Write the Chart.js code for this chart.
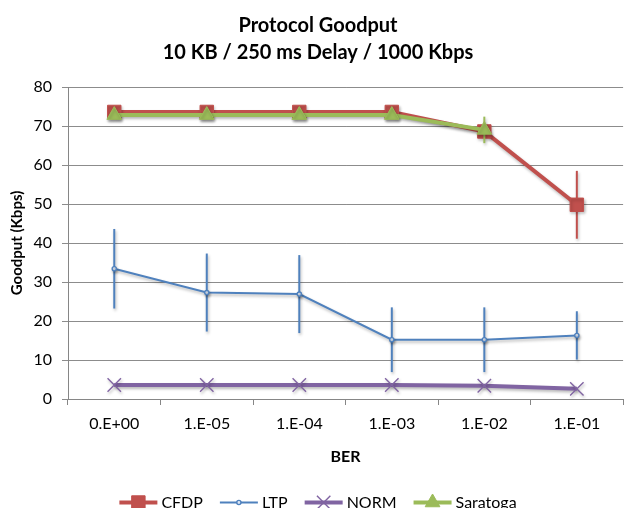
<!DOCTYPE html>
<html><head><meta charset="utf-8">
<script src="https://cdn.jsdelivr.net/npm/chart.js@4.4.0/dist/chart.umd.min.js"></script>
<style>html,body{margin:0;padding:0;background:#fff;overflow:hidden}#wrap{width:624px;height:508px;overflow:hidden;position:relative}canvas{display:block}</style>
</head><body><div id="wrap"><canvas id="c" width="634" height="530"></canvas></div>
<script>
const titleLines = ['Protocol Goodput', '10 KB / 250 ms Delay / 1000 Kbps'];
const categories = ['0.E+00', '1.E-05', '1.E-04', '1.E-03', '1.E-02', '1.E-01'];
const cfdp = [73.6, 73.6, 73.6, 73.6, 68.6, 49.8];
const cfdpErr = [0, 0, 0, 0, 0, 8.7];
const ltp = [33.4, 27.3, 26.9, 15.2, 15.2, 16.3];
const ltpErr = [10.2, 10.0, 10.0, 8.3, 8.3, 6.2];
const norm = [3.6, 3.6, 3.6, 3.6, 3.4, 2.6];
const normErr = [0, 0, 0, 0, 0, 0];
const saratoga = [72.8, 72.8, 72.8, 72.8, 69.0, null];
const saratogaErr = [0, 0, 0, 0, 3.4, 0];

const FONT = 'Lato, "Open Sans", sans-serif';
Chart.defaults.font.family = FONT;
Chart.defaults.color = '#000';

function setShadow(ctx) {
  ctx.shadowColor = 'rgba(0,0,0,0.28)';
  ctx.shadowBlur = 3;
  ctx.shadowOffsetX = 1;
  ctx.shadowOffsetY = 2;
}

const errorBars = {
  id: 'errorBars',
  beforeDatasetDraw(chart, args) {
    const ctx = chart.ctx;
    ctx.save();
    setShadow(ctx);
    const ds = chart.data.datasets[args.index];
    const xs = chart.scales.x, ys = chart.scales.y;
    const a = chart.chartArea;
    ctx.beginPath(); ctx.rect(a.left, a.top, a.right - a.left, a.bottom - a.top); ctx.clip();
    ctx.strokeStyle = ds.borderColor;
    ctx.lineWidth = ds.errWidth || 2;
    (ds.errors || []).forEach((e, i) => {
      const v = ds.data[i];
      if (v == null || !e) return;
      const x = xs.getPixelForValue(i);
      ctx.beginPath();
      ctx.moveTo(x, ys.getPixelForValue(v + e));
      ctx.lineTo(x, ys.getPixelForValue(v - e));
      ctx.stroke();
    });
    ctx.restore();
    ctx.save();
    setShadow(ctx);
  },
  afterDatasetDraw(chart) {
    chart.ctx.restore();
  }
};

function drawMarker(ctx, ds, x, y) {
  ctx.save();
  ctx.fillStyle = ds.pointBackgroundColor || ds.backgroundColor;
  ctx.strokeStyle = ds.pointBorderColor || ds.borderColor;
  ctx.lineWidth = ds.pointBorderWidth || 1;
  const r = ds.pointRadius;
  ctx.beginPath();
  if (ds.pointStyle === 'rect') {
    const s = Math.SQRT1_2 * r;
    ctx.rect(x - s, y - s, 2 * s, 2 * s); ctx.fill(); ctx.stroke();
  } else if (ds.pointStyle === 'circle') {
    ctx.arc(x, y, r, 0, Math.PI * 2); ctx.fill(); ctx.stroke();
  } else if (ds.pointStyle === 'crossRot') {
    const s = Math.SQRT1_2 * r;
    ctx.moveTo(x - s, y - s); ctx.lineTo(x + s, y + s);
    ctx.moveTo(x + s, y - s); ctx.lineTo(x - s, y + s); ctx.stroke();
  } else if (ds.pointStyle === 'triangle') {
    const a = 2 * Math.PI / 3;
    ctx.moveTo(x, y - r);
    ctx.lineTo(x + Math.sin(a) * r, y - Math.cos(a) * r);
    ctx.lineTo(x + Math.sin(2 * a) * r, y - Math.cos(2 * a) * r);
    ctx.closePath(); ctx.fill(); ctx.stroke();
  }
  ctx.restore();
}

const legendPlugin = {
  id: 'xlLegend',
  afterDraw(chart) {
    const ctx = chart.ctx;
    ctx.save();
    ctx.font = '16px ' + FONT;
    ctx.textBaseline = 'middle';
    ctx.fillStyle = '#000';
    const lineLen = 38, gapT = 4, gapI = 17, cy = 502.5;
    const dss = chart.data.datasets;
    let total = 0;
    dss.forEach((d, i) => { total += lineLen + gapT + ctx.measureText(d.label).width + (i < dss.length - 1 ? gapI : 0); });
    let x = 318 - total / 2;
    dss.forEach(d => {
      ctx.save();
      ctx.strokeStyle = d.borderColor; ctx.lineWidth = d.borderWidth;
      ctx.beginPath(); ctx.moveTo(x, cy); ctx.lineTo(x + lineLen, cy); ctx.stroke();
      ctx.restore();
      drawMarker(ctx, d, x + lineLen / 2, cy);
      x += lineLen + gapT;
      ctx.fillText(d.label, x, cy);
      x += ctx.measureText(d.label).width + gapI;
    });
    ctx.restore();
  }
};

new Chart(document.getElementById('c'), {
  type: 'line',
  data: {
    labels: categories,
    datasets: [
      { label: 'CFDP', data: cfdp, errors: cfdpErr, borderColor: '#C0504D', backgroundColor: '#C0504D',
        borderWidth: 4, pointStyle: 'rect', pointRadius: 9.5, pointBorderWidth: 1, order: 4, errWidth: 2 },
      { label: 'LTP', data: ltp, errors: ltpErr, borderColor: '#4F81BD', backgroundColor: '#4F81BD',
        pointBackgroundColor: '#dbe5f3', pointBorderColor: '#4F81BD',
        borderWidth: 2, pointStyle: 'circle', pointRadius: 2.1, pointBorderWidth: 1.4, order: 3, errWidth: 2 },
      { label: 'NORM', data: norm, errors: normErr, borderColor: '#8064A2', backgroundColor: '#8064A2',
        borderWidth: 4, pointStyle: 'crossRot', pointRadius: 9.5, pointBorderWidth: 1.4, order: 2, errWidth: 2 },
      { label: 'Saratoga', data: saratoga, errors: saratogaErr, borderColor: '#9BBB59', backgroundColor: '#9BBB59',
        borderWidth: 4, pointStyle: 'triangle', pointRadius: 8.5, pointBorderWidth: 1, order: 1, errWidth: 2 }
    ]
  },
  options: {
    responsive: false,
    animation: false,
    devicePixelRatio: 1,
    layout: { padding: { left: 9, right: 7, top: 0, bottom: 61 } },
    elements: { line: { tension: 0 } },
    plugins: {
      legend: { display: false },
      tooltip: { enabled: false },
      title: {
        display: true, text: titleLines, color: '#000',
        font: { family: FONT, size: 20, weight: 'bold', lineHeight: 1.35 },
        padding: { top: 12, bottom: 21 }
      }
    },
    scales: {
      x: {
        type: 'category', offset: true,
        grid: { display: true, offset: true, drawOnChartArea: false, drawTicks: true, tickLength: 6, color: '#868686' },
        border: { display: true, color: '#868686' },
        ticks: { font: { size: 16 }, color: '#000', padding: 9, maxRotation: 0, autoSkip: false },
        title: { display: true, text: 'BER', color: '#000', font: { size: 16, weight: 'bold' }, padding: { top: 0, bottom: 2.4 } },
        afterFit(s) { s.height = 70; }
      },
      y: {
        min: 0, max: 80,
        ticks: { stepSize: 10, font: { size: 16 }, color: '#000', padding: 10 },
        grid: { color: '#8c8c8c', tickLength: 6, drawTicks: true },
        border: { display: true, color: '#868686' },
        title: { display: true, text: 'Goodput (Kbps)', color: '#000', font: { size: 15, weight: 'bold', lineHeight: 1.0 }, padding: { top: 1, bottom: 0 } },
        afterFit(s) { s.width = 59; }
      }
    }
  },
  plugins: [errorBars, legendPlugin]
});
</script>
</body></html>
